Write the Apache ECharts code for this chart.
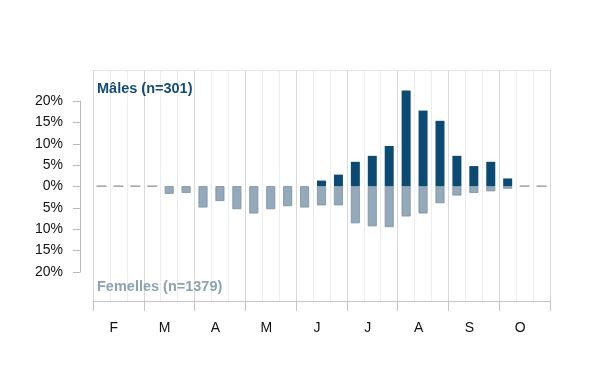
<!DOCTYPE html>
<html>
<head>
<meta charset="utf-8">
<script src="https://cdn.jsdelivr.net/npm/echarts@6/dist/echarts.min.js"></script>
<style>
  html, body { margin: 0; padding: 0; background: #fff; }
  #chart { width: 600px; height: 390px; }
</style>
</head>
<body>
<div id="chart"></div>
<script>
// 3 periods per month, February to October
const months = ["F", "M", "A", "M", "J", "J", "A", "S", "O"];
const bins = [];
months.forEach((m, i) => { for (let k = 0; k < 3; k++) bins.push(i * 3 + k); });

// percentages
const males = [0, 0, 0, 0, 0, 0, 0, 0, 0, 0, 0, 0, 0, 1.3,
  2.7, 5.7, 7.1, 9.4, 22.4, 17.7, 15.3, 7.1, 4.7, 5.7, 1.8, 0, 0];
const females = [0, 0, 0, 0, 1.8, 1.6, 5.0, 3.5, 5.4, 6.4, 5.4, 4.7, 5.0, 4.5,
  4.5, 8.7, 9.4, 9.6, 7.1, 6.4, 4.0, 2.2, 1.6, 1.2, 0.6, 0, 0];

const font = "Liberation Sans, Arial, sans-serif";

const zeros = bins.map((b, i) => (males[i] === 0 && females[i] === 0 ? 0 : "-"));

let chart = echarts.init(document.getElementById("chart"));
chart.setOption({
  animation: false,
  grid: [
    { left: 93, right: 50, top: 70, bottom: 89 },
    { left: 80, width: 10, top: 101, bottom: 118 },
  ],
  xAxis: [
    {
      type: "category",
      gridIndex: 0,
      position: "bottom",
      data: months,
      boundaryGap: true,
      axisLine: { show: true, onZero: false, lineStyle: { color: "#c4c4c4" } },
      axisTick: { show: true, interval: 0, length: 10, lineStyle: { color: "#c4c4c4" } },
      axisLabel: { color: "#111", fontSize: 14, fontFamily: font, margin: 20, padding: [0, 9, 0, 0] },
      splitLine: { show: true, lineStyle: { color: "#d9d9d9" } },
      z: 3,
    },
    {
      type: "category",
      gridIndex: 0,
      position: "top",
      data: bins,
      boundaryGap: true,
      axisLine: { show: true, onZero: false, lineStyle: { color: "#e6e6e6" } },
      axisTick: { show: false },
      axisLabel: { show: false },
      splitLine: { show: true, interval: 0, lineStyle: { color: "#ededed" } },
    },
    {
      type: "value",
      gridIndex: 1,
      show: false,
    },
  ],
  yAxis: [
    {
      type: "value",
      gridIndex: 0,
      min: -26.9,
      max: 27.2,
      show: false,
      splitLine: { show: false },
    },
    {
      type: "value",
      gridIndex: 1,
      min: -20,
      max: 20,
      interval: 5,
      position: "left",
      axisLine: { show: true, onZero: false, lineStyle: { color: "#bbbbbb" } },
      axisTick: { show: true, length: 7, lineStyle: { color: "#bbbbbb" } },
      axisLabel: {
        color: "#111",
        fontSize: 14,
        fontFamily: font,
        margin: 17,
        formatter: (v) => Math.abs(v) + "%",
      },
      splitLine: { show: false },
    },
  ],
  series: [
    {
      name: "Mâles",
      type: "bar",
      xAxisIndex: 1,
      yAxisIndex: 0,
      data: males.map((v) => (v === 0 ? "-" : v)),
      barWidth: 9,
      barGap: "-100%",
      itemStyle: { color: "#0b4a72" },
      z: 4,
    },
    {
      name: "Femelles",
      type: "bar",
      xAxisIndex: 1,
      yAxisIndex: 0,
      data: females.map((v) => (v === 0 ? "-" : -v)),
      barWidth: 9,
      itemStyle: { color: "#94aabb", borderColor: "#7890a1", borderWidth: 0.8 },
      z: 4,
    },
    {
      name: "zero",
      type: "scatter",
      xAxisIndex: 1,
      yAxisIndex: 0,
      data: zeros,
      symbol: "rect",
      symbolSize: [10, 1.5],
      itemStyle: { color: "#8a8a8a" },
      z: 4,
    },
  ],
  graphic: [
    {
      type: "text",
      left: 97,
      top: 81,
      z: 100,
      style: { text: "Mâles (n=301)", fill: "#134d74", font: "bold 14.5px " + font },
    },
    {
      type: "text",
      left: 97,
      top: 279,
      z: 100,
      style: { text: "Femelles (n=1379)", fill: "#8da2b2", font: "bold 14.5px " + font },
    },
  ],
});
</script>
</body>
</html>
